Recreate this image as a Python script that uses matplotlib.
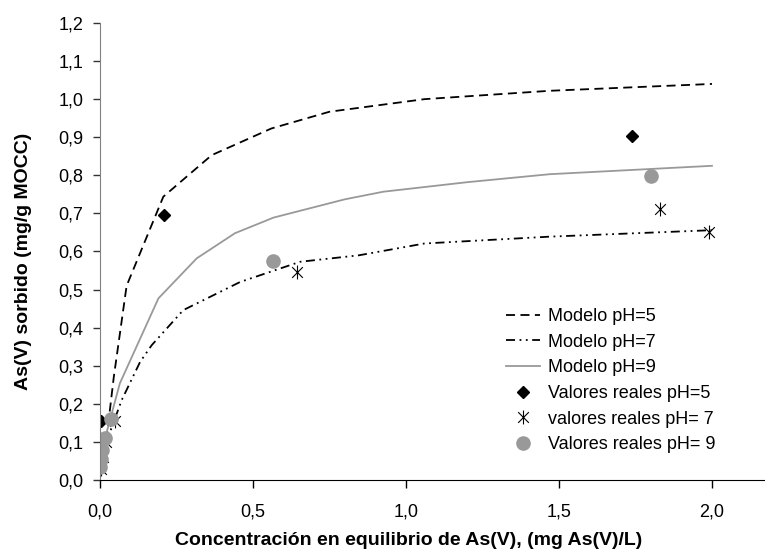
import matplotlib
matplotlib.use('Agg')
import matplotlib.pyplot as plt
from matplotlib.path import Path
from matplotlib.ticker import FuncFormatter

plt.rcParams['font.family'] = ['Liberation Sans', 'DejaVu Sans']

# model curves
c_mod5 = [0.003, 0.02, 0.045, 0.087, 0.207, 0.365, 0.56, 0.75, 1.06, 1.47, 2.0]
q_mod5 = [0.03, 0.10, 0.27, 0.51, 0.744, 0.853, 0.923, 0.967, 1.0, 1.022, 1.04]

c_mod7 = [0.003, 0.03, 0.071, 0.131, 0.169, 0.272, 0.458, 0.654, 0.846, 1.06, 1.47, 2.0]
q_mod7 = [0.03, 0.12, 0.21, 0.31, 0.354, 0.446, 0.52, 0.573, 0.59, 0.621, 0.639, 0.656]

c_mod9 = [0.003, 0.02, 0.065, 0.191, 0.316, 0.441, 0.567, 0.80, 0.926, 1.2, 1.47, 2.0]
q_mod9 = [0.03, 0.12, 0.254, 0.477, 0.582, 0.648, 0.689, 0.737, 0.757, 0.782, 0.803, 0.825]

# measured values
c_exp5 = [0.001, 0.002, 0.004, 0.21, 1.74]
q_exp5 = [0.04, 0.08, 0.155, 0.696, 0.904]

c_exp7 = [0.003, 0.01, 0.02, 0.05, 0.643, 1.831, 1.99]
q_exp7 = [0.03, 0.06, 0.10, 0.155, 0.547, 0.711, 0.652]

c_exp9 = [0.001, 0.003, 0.006, 0.016, 0.035, 0.564, 1.80]
q_exp9 = [0.035, 0.055, 0.08, 0.109, 0.159, 0.576, 0.799]

x_ticks = [0.0, 0.5, 1.0, 1.5, 2.0]
y_ticks = [round(0.1 * i, 1) for i in range(13)]

gray = '#999999'

# Excel style star marker: an X with a vertical bar
star = Path([(-1, -1), (1, 1), (-1, 1), (1, -1), (0, -1.3), (0, 1.3)],
            [Path.MOVETO, Path.LINETO, Path.MOVETO, Path.LINETO, Path.MOVETO, Path.LINETO])

fig = plt.figure(figsize=(7.65, 5.54), dpi=100)
ax = fig.add_axes([100 / 765, 1 - 480 / 554, 664 / 765, 457 / 554])

ax.plot(c_mod5, q_mod5, color='black', lw=1.3, dashes=(5, 3), label='Modelo pH=5')
ax.plot(c_mod7, q_mod7, color='black', lw=1.3, dashes=(5, 2.5, 1, 2.5, 1, 2.5), label='Modelo pH=7')
ax.plot(c_mod9, q_mod9, color=gray, lw=1.3, label='Modelo pH=9')
ax.plot(c_exp5, q_exp5, ls='none', marker='D', ms=6, color='black', label='Valores reales pH=5')
ax.plot(c_exp7, q_exp7, ls='none', marker=star, ms=10, mfc='none', mec='black', mew=0.8,
        label='valores reales pH= 7')
ax.plot(c_exp9, q_exp9, ls='none', marker='o', ms=9.5, color=gray, label='Valores reales pH= 9')

ax.set_xlim(0, 2.17)
ax.set_ylim(0, 1.2)
ax.set_xticks(x_ticks)
ax.set_yticks(y_ticks)
fmt = FuncFormatter(lambda v, p: f'{v:.1f}'.replace('.', ','))
ax.xaxis.set_major_formatter(fmt)
ax.yaxis.set_major_formatter(fmt)

for s in ['top', 'right']:
    ax.spines[s].set_visible(False)
ax.spines['left'].set_color('#808080')
ax.spines['bottom'].set_color('black')
ax.tick_params(axis='x', direction='out', length=6, width=1, pad=11, labelsize=13, color='black')
ax.tick_params(axis='y', direction='out', length=5, width=1, pad=7, labelsize=13, color='#333333')

ax.set_xlabel('Concentración en equilibrio de As(V), (mg As(V)/L)', fontsize=14, fontweight='bold')
ax.set_ylabel('As(V) sorbido (mg/g MOCC)', fontsize=14, fontweight='bold')
ax.xaxis.set_label_coords(0.465, -0.114)
ax.yaxis.set_label_coords(-0.102, 0.479)

leg = ax.legend(loc='upper left', bbox_to_anchor=(497 / 765, 1 - 299 / 554),
                bbox_transform=fig.transFigure, frameon=False, fontsize=13,
                handlelength=1.9, handletextpad=0.4, labelspacing=0.48, borderpad=0)

fig.savefig('out.png', dpi=100)
